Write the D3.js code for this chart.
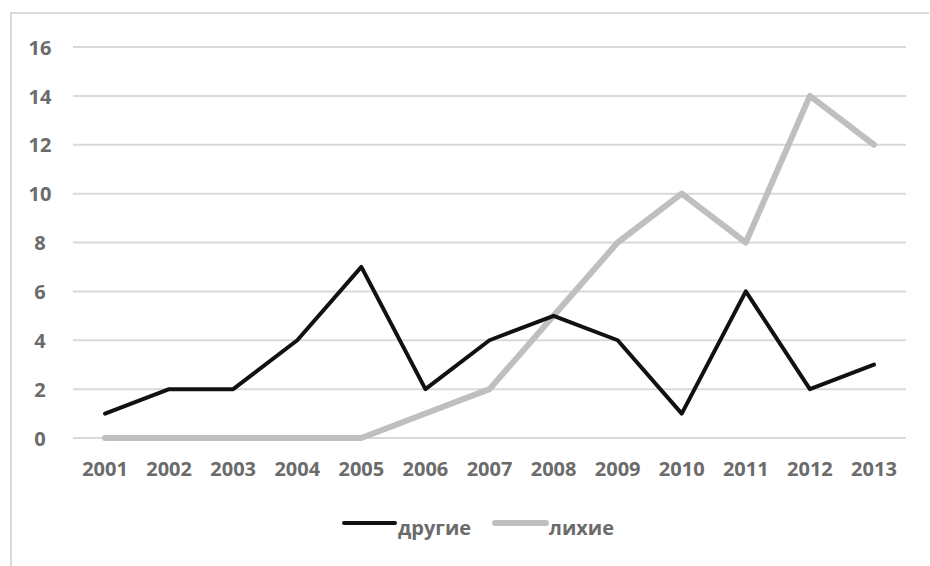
<!DOCTYPE html>
<html>
<head>
<meta charset="utf-8">
<script src="https://cdn.jsdelivr.net/npm/d3@7"></script>
<style>
  html, body { margin: 0; padding: 0; background: #fff; }
  svg { display: block; }
  text { font-family: "Open Sans", "DejaVu Sans", sans-serif; font-weight: 700; fill: #6b6b6b; }
</style>
</head>
<body>
<svg id="chart" width="930" height="566"></svg>
<script>
// Years along the horizontal axis
const years = ["2001","2002","2003","2004","2005","2006","2007","2008","2009","2010","2011","2012","2013"];
// Series values per year
const drugie = [1, 2, 2, 4, 7, 2, 4, 5, 4, 1, 6, 2, 3];
const likhie = [0, 0, 0, 0, 0, 1, 2, 5, 8, 10, 8, 14, 12];
// Value axis ticks
const yTicks = [0, 2, 4, 6, 8, 10, 12, 14, 16];
const seriesNames = ["другие", "лихие"];

const svg = d3.select("#chart");
const W = 930, H = 566;
const plot = { left: 73, right: 906, top: 47, bottom: 438 };
const fontSize = "20px";

// Frame: top and left border of the chart area
svg.append("line").attr("x1", 10).attr("x2", 929).attr("y1", 13).attr("y2", 13)
  .attr("stroke", "#d9d9d9").attr("stroke-width", 2);
svg.append("line").attr("x1", 11).attr("x2", 11).attr("y1", 12).attr("y2", H)
  .attr("stroke", "#d9d9d9").attr("stroke-width", 2);

const x = d3.scaleBand().domain(years).range([plot.left, plot.right]);
const y = d3.scaleLinear().domain([0, 16]).range([plot.bottom, plot.top]);

// Horizontal gridlines
svg.append("g").selectAll("line").data(yTicks).join("line")
  .attr("x1", plot.left).attr("x2", plot.right)
  .attr("y1", d => y(d)).attr("y2", d => y(d))
  .attr("stroke", "#d9d9d9").attr("stroke-width", 2);

// Value axis labels
const yAxis = svg.append("g").attr("transform", `translate(${plot.left},0)`)
  .call(d3.axisLeft(y).tickValues(yTicks).tickSize(0).tickPadding(0));
yAxis.select(".domain").remove();
yAxis.selectAll("text").attr("x", -33).attr("dy", "0.36em").attr("text-anchor", "middle")
  .style("font-size", fontSize).style("font-family", "'Open Sans', sans-serif")
  .style("font-weight", "700").attr("fill", "#6b6b6b");

// Year labels
const xAxis = svg.append("g").attr("transform", `translate(0,${plot.bottom})`)
  .call(d3.axisBottom(x).tickSize(0).tickPadding(0));
xAxis.select(".domain").remove();
xAxis.selectAll("text").attr("y", 31).attr("dy", "0.36em")
  .style("font-size", fontSize).style("font-family", "'Open Sans', sans-serif")
  .style("font-weight", "700").attr("fill", "#6b6b6b");

const line = d3.line()
  .x((d, i) => x(years[i]) + x.bandwidth() / 2)
  .y(d => y(d));

svg.append("path").datum(likhie).attr("d", line)
  .attr("fill", "none").attr("stroke", "#bfbfbf").attr("stroke-width", 6)
  .attr("stroke-linejoin", "round").attr("stroke-linecap", "round");
svg.append("path").datum(drugie).attr("d", line)
  .attr("fill", "none").attr("stroke", "#111").attr("stroke-width", 4)
  .attr("stroke-linejoin", "round").attr("stroke-linecap", "round");

// Legend
const legend = [
  { name: seriesNames[0], color: "#111", width: 4, x0: 344 },
  { name: seriesNames[1], color: "#bfbfbf", width: 6, x0: 495 }
];
const lg = svg.append("g");
legend.forEach(l => {
  lg.append("line").attr("x1", l.x0).attr("x2", l.x0 + 51).attr("y1", 523).attr("y2", 523)
    .attr("stroke", l.color).attr("stroke-width", l.width).attr("stroke-linecap", "round");
  lg.append("text").attr("x", l.x0 + 54).attr("y", 528).attr("dy", "0.36em")
    .style("font-size", fontSize).text(l.name);
});
</script>
</body>
</html>
